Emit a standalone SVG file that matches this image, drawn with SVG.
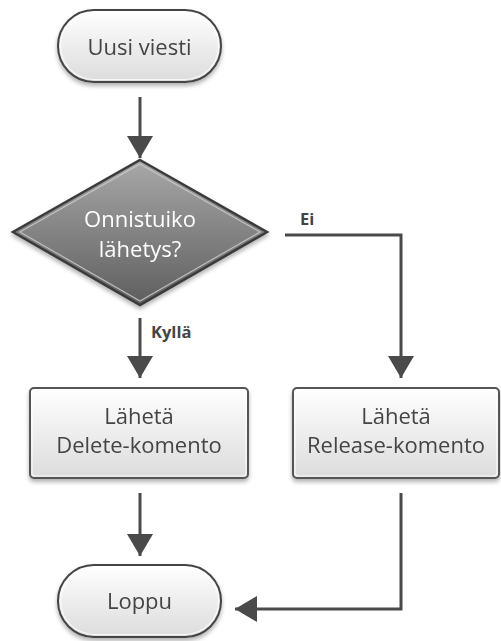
<svg xmlns="http://www.w3.org/2000/svg" width="501" height="641" viewBox="0 0 501 641">
<defs>
<linearGradient id="gLight" x1="0" y1="0" x2="0" y2="1">
<stop offset="0" stop-color="#ffffff"/><stop offset="1" stop-color="#dcdcdc"/>
</linearGradient>
<linearGradient id="gDark" x1="0" y1="0" x2="0" y2="1">
<stop offset="0" stop-color="#a8a8a8"/><stop offset="1" stop-color="#5e5e5e"/>
</linearGradient>
<filter id="sh" x="-10%" y="-10%" width="120%" height="130%">
<feDropShadow dx="0" dy="3" stdDeviation="2" flood-color="#000" flood-opacity="0.3"/>
</filter>
<marker id="ah" markerUnits="userSpaceOnUse" markerWidth="24" markerHeight="26" refX="22" refY="13" orient="auto">
<path d="M0,0 L22,13 L0,26 Z" fill="#4a4a4a"/>
</marker>
<style>
.lbl{font-family:"Open Sans","DejaVu Sans",sans-serif;font-size:22px;fill:#444;text-anchor:middle}
.wl{fill:#ffffff}
.el{font-family:"Open Sans","DejaVu Sans",sans-serif;font-size:16.5px;font-weight:bold;fill:#444}
.term{fill:url(#gLight);stroke:#444;stroke-width:2}
.box{fill:url(#gLight);stroke:#555;stroke-width:2}
.inner{fill:none;stroke:#ffffff;stroke-width:1.2;opacity:0.8}
.con{fill:none;stroke:#4a4a4a;stroke-width:3;marker-end:url(#ah)}
</style>
</defs>
<g id="start" filter="url(#sh)">
<rect class="term" x="58" y="10" width="163" height="72" rx="36"/>
<rect class="inner" x="60.5" y="12.5" width="158" height="67" rx="33.5"/>
<text class="lbl" x="139.5" y="55">Uusi viesti</text>
</g>
<g id="decision" filter="url(#sh)">
<polygon points="140,160 267,232 140,305 13,232" fill="url(#gDark)" stroke="#3a3a3a" stroke-width="2.5"/>
<polygon points="140,164 260,232 140,301 20,232" fill="none" stroke="#cfcfcf" stroke-width="1.2" opacity="0.8"/>
<text class="lbl wl" x="140" y="227">Onnistuiko</text>
<text class="lbl wl" x="140" y="257">lähetys?</text>
</g>
<g id="delete" filter="url(#sh)">
<rect class="box" x="30" y="388" width="218" height="90" rx="4"/>
<rect class="inner" x="32" y="390" width="214" height="86" rx="3"/>
<text class="lbl" x="139" y="424">Lähetä</text>
<text class="lbl" x="139" y="453">Delete-komento</text>
</g>
<g id="release" filter="url(#sh)">
<rect class="box" x="293" y="388" width="206" height="90" rx="4"/>
<rect class="inner" x="295" y="390" width="202" height="86" rx="3"/>
<text class="lbl" x="396" y="424">Lähetä</text>
<text class="lbl" x="396" y="453">Release-komento</text>
</g>
<g id="end" filter="url(#sh)">
<rect class="term" x="58" y="565" width="163" height="72" rx="36"/>
<rect class="inner" x="60.5" y="567.5" width="158" height="67" rx="33.5"/>
<text class="lbl" x="139.5" y="609">Loppu</text>
</g>
<g id="connectors">
<line class="con" x1="140" y1="97" x2="140" y2="158"/>
<line class="con" x1="140" y1="318" x2="140" y2="378"/>
<polyline class="con" points="285,235 401,235 401,378"/>
<line class="con" x1="140" y1="493" x2="140" y2="556"/>
<polyline class="con" points="401,493 401,609 235,609"/>
<text class="el" x="151" y="338">Kyllä</text>
<text class="el" x="300" y="225">Ei</text>
</g>
</svg>
